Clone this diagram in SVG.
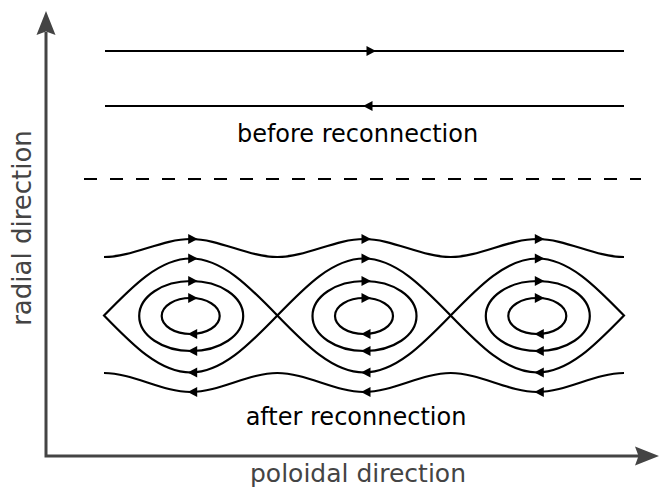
<svg xmlns="http://www.w3.org/2000/svg" xmlns:xlink="http://www.w3.org/1999/xlink" width="659" height="491" viewBox="0 0 659 491">
  <style>
    .fl { fill: none; stroke: #000; stroke-width: 2.2; }
    .dash { fill: none; stroke: #000; stroke-width: 2.2; stroke-dasharray: 13 13; }
    .ax { fill: none; stroke: #444; stroke-width: 3; }
    .axhead { fill: #444; stroke: none; }
    .ah { fill: #000; stroke: none; }
    .lbl { font-family: "DejaVu Sans", sans-serif; font-size: 24px; fill: #000; text-anchor: middle; }
    .axlbl { font-family: "DejaVu Sans", sans-serif; font-size: 25px; fill: #444; text-anchor: middle; }
  </style>
  <defs>
    <!-- arrowheads along the field lines -->
    <path id="ar-r" class="ah" d="M-4.5,-5 L5,0 L-4.5,5 Z"/>
    <path id="ar-l" class="ah" d="M4.5,-5 L-5,0 L4.5,5 Z"/>
    <!-- one magnetic island: separatrix lens plus two closed flux surfaces -->
    <g id="island">
      <path class="fl" stroke-linejoin="miter" d="M-86.67,0 C-58.37,-29.2 -31.3,-57 0,-57 C31.3,-57 58.37,-29.2 86.67,0 C58.37,29.2 31.3,57 0,57 C-31.3,57 -58.37,29.2 -86.67,0 Z"/>
      <ellipse class="fl" cx="0.5" cy="0.5" rx="52" ry="35"/>
      <ellipse class="fl" cx="0" cy="0.5" rx="29" ry="18"/>
      <use xlink:href="#ar-r" x="2" y="-57"/>
      <use xlink:href="#ar-r" x="2" y="-34.5"/>
      <use xlink:href="#ar-r" x="2" y="-17.5"/>
      <use xlink:href="#ar-l" x="2" y="18.5"/>
      <use xlink:href="#ar-l" x="2" y="35.5"/>
      <use xlink:href="#ar-l" x="2" y="57"/>
      <!-- arrows on the open field lines above and below -->
      <use xlink:href="#ar-r" x="2" y="-76.5"/>
      <use xlink:href="#ar-l" x="2" y="76.5"/>
    </g>
  </defs>

  <!-- axes -->
  <g id="axes">
    <path class="ax" d="M46,32 L46,456 L644,456"/>
    <path class="axhead" d="M46,11 L55.5,35 L46,31.5 L36.5,35 Z"/>
    <path class="axhead" d="M659,456 L635,446.5 L638.5,456 L635,465.5 Z"/>
  </g>

  <g id="connectors">
    <!-- before reconnection: antiparallel field lines -->
    <path class="fl" d="M105,51 L624,51"/>
    <path class="fl" d="M105,106 L624,106"/>
    <use xlink:href="#ar-r" x="371" y="51"/>
    <use xlink:href="#ar-l" x="368" y="106"/>

    <!-- separator -->
    <path class="dash" d="M84,179 L641,179"/>

    <!-- after reconnection: open field lines -->
    <path class="fl" d="M104,257 C132.9,257 161.8,239 190.7,239 S248.4,257 277.3,257 S335.1,239 364,239 S421.8,257 450.7,257 S508.4,239 537.3,239 S595.1,257 624,257"/>
    <path class="fl" d="M104,373 C132.9,373 161.8,392 190.7,392 S248.4,373 277.3,373 S335.1,392 364,392 S421.8,373 450.7,373 S508.4,392 537.3,392 S595.1,373 624,373"/>
  </g>

  <g id="island-1" transform="translate(190.7,315.5)"><use xlink:href="#island"/></g>
  <g id="island-2" transform="translate(364,315.5)"><use xlink:href="#island"/></g>
  <g id="island-3" transform="translate(537.3,315.5)"><use xlink:href="#island"/></g>

  <g id="labels">
    <text class="lbl" x="357.5" y="142">before reconnection</text>
    <text class="lbl" x="356" y="425">after reconnection</text>
    <text class="axlbl" x="358" y="482">poloidal direction</text>
    <text class="axlbl" style="font-size:26px" transform="translate(30.5,228) rotate(-90)">radial direction</text>
  </g>
</svg>
